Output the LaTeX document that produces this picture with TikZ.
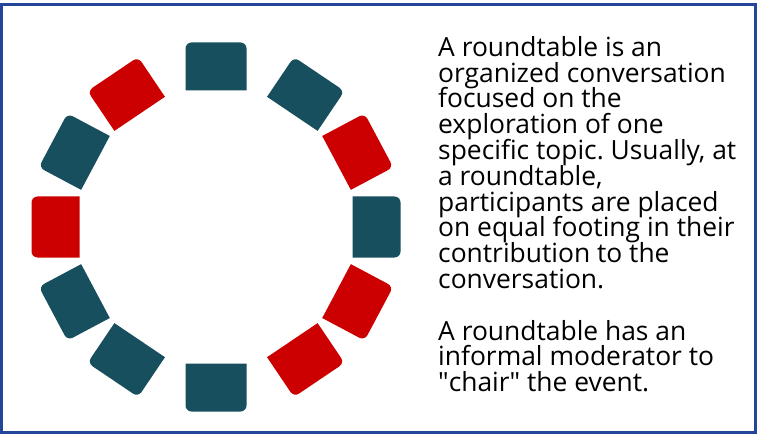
\documentclass[tikz,border=0pt]{standalone}
\usepackage{fontspec}
\setmainfont{Open Sans}
\usepackage{tikz}
\usetikzlibrary{positioning}
\definecolor{petrol}{HTML}{174F5E}
\definecolor{signalrot}{HTML}{CC0000}
\definecolor{rahmen}{HTML}{23469A}
\newcommand\textschrift{\fontsize{26.4}{25.8}\selectfont\lineskiplimit=-100pt\relax}
\frenchspacing

\begin{document}
\begin{tikzpicture}[
        x=1pt, y=1pt,
        every node/.style={font=\textschrift, inner sep=0pt},
      ]
      \useasboundingbox (0,0) rectangle (759,434);
      \fill[white] (0,0) rectangle (759,434);

      % Rahmen
      \draw[rahmen, line width=3pt] (1.5,2) rectangle (755.5,429);

      % Mittelpunkt des Kreises
      \coordinate (mitte) at (216,207);

      % Stuehle: Winkel/Farbe, aussen abgerundet
      \foreach \winkel/\farbe in {90/petrol, 56/petrol, 28/signalrot,
          0/petrol, -28/signalrot, -56/signalrot, -90/petrol,
          -124/petrol, -152/petrol, 180/signalrot, 152/petrol,
          124/signalrot} {
        \begin{scope}[shift={(mitte)}, rotate=\winkel-90, shift={(0,160.5)}]
          \fill[\farbe]
            (-30.5,-24) -- (-30.5,18) arc[start angle=180, end angle=90, radius=6]
            -- (24.5,24) arc[start angle=90, end angle=0, radius=6]
            -- (30.5,-24) -- cycle;
        \end{scope}
      }

      % Beschreibung rechts
      \node[anchor=north west, align=left] (text) at (438,398) {%
        A roundtable is an\\
        organized conversation\\
        focused on the\\
        exploration of one\\
        specific topic. Usually, at\\
        a roundtable,\\
        participants are placed\\
        on equal footing in their\\
        contribution to the\\
        conversation.\\[25.8pt]
        A roundtable has an\\
        informal moderator to\\
        \textquotedbl chair\textquotedbl{} the event.};
    \end{tikzpicture}
\end{document}
